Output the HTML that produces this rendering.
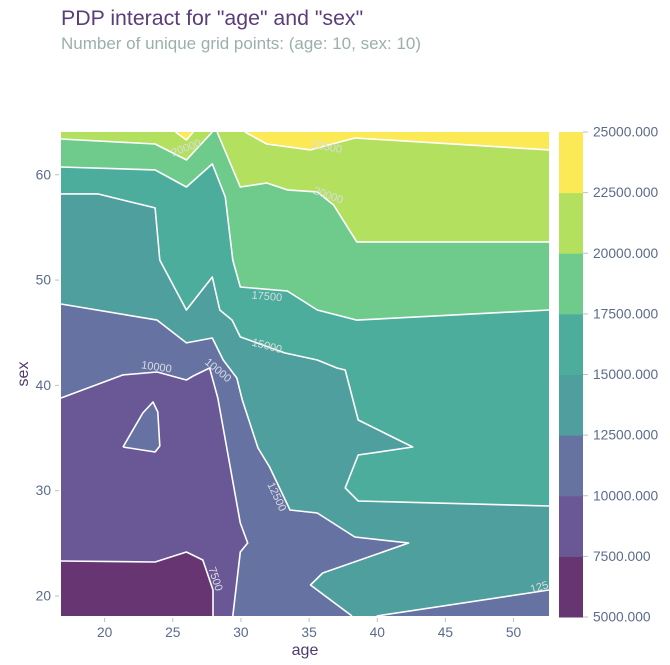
<!DOCTYPE html>
<html><head><meta charset="utf-8"><style>
html,body{margin:0;padding:0;background:#fff;}
svg{display:block;font-family:"Liberation Sans",sans-serif;}
</style></head><body>
<svg id="chart" width="670" height="665" viewBox="0 0 670 665">
<text x="61" y="25" font-size="21.3" fill="#5a3d7a">PDP interact for "age" and "sex"</text>
<text x="61" y="49" font-size="17" fill="#9ab0ac">Number of unique grid points: (age: 10, sex: 10)</text>
<g id="plot"></g>
<g id="cbar"></g>
<text x="305" y="655" font-size="16" fill="#4e3a6e" text-anchor="middle">age</text>
<text x="0" y="0" font-size="16" fill="#4e3a6e" text-anchor="middle" transform="translate(28,374) rotate(-90)">sex</text>
</svg>
<script>
// ---- data ----
const levels = [5000, 7500, 10000, 12500, 15000, 17500, 20000, 22500, 25000];
const bandColors = ['#663572','#6a5896','#6672a2','#4f9f9e','#4cad9c','#6fcb8b','#b4e05f','#fce956'];
const xTicks = [20, 25, 30, 35, 40, 45, 50];
const yTicks = [20, 30, 40, 50, 60];
const xDomain = [16.8, 52.6];
const yDomain = [18.1, 64.06];
// contour lines in data coords [age, sex]
const c7500 = [[16.8,23.32],[23.7,23.23],[26.0,24.18],[27.2,23.42],[27.95,20.57],[27.95,18.1]];
const c10000 = [[16.8,38.8],[21.35,40.99],[23.85,41.27],[26.0,40.51],[26.5,40.89],[27.7,41.65],[28.3,38.8],[29.95,26.93],[30.5,25.03],[29.95,24.18],[29.4,18.1]];
const c10000island = [[21.35,34.15],[22.8,37.38],[23.55,38.42],[23.9,37.47],[24.05,34.24],[23.7,33.67],[21.35,34.15]];
const c12500 = [[16.8,47.73],[23.85,46.2],[26.0,44.03],[27.9,44.5],[28.7,42.41],[29.7,40.7],[30.1,38.61],[31.25,34.05],[32.1,32.25],[33.6,28.17],[35.6,27.88],[38.35,25.6],[42.3,25.03],[36.0,22.18],[35.1,21.04],[38.15,18.1]];
const c12500b = [[39.95,18.1],[52.6,20.57]];
const c15000 = [[16.8,58.18],[19.5,58.18],[23.7,56.85],[24.05,51.9],[26.0,47.16],[27.9,50.29],[28.45,47.16],[29.35,46.2],[29.95,44.6],[33.2,43.08],[35.6,42.41],[37.05,41.65],[37.65,41.46],[38.6,36.71],[42.6,34.15],[38.6,33.39],[37.65,30.26],[38.6,29.02],[52.6,28.55]];
const c17500 = [[16.8,60.74],[23.7,60.46],[26.0,58.84],[27.9,61.03],[28.85,57.89],[29.4,51.9],[29.95,49.34],[33.4,48.96],[35.6,47.16],[38.5,46.2],[52.6,47.16]];
const c20000a = [[16.8,63.4],[23.7,62.92],[26.0,61.41],[27.9,64.06]];
const c20000b = [[28.25,64.06],[29.95,58.84],[31.9,59.22],[33.4,58.56],[35.6,58.37],[36.8,57.13],[38.5,53.62],[52.6,53.62]];
const c22500a = [[25.2,64.06],[26.0,63.3],[26.5,64.06]];
const c22500b = [[30.3,64.06],[31.9,62.92],[35.1,62.36],[38.35,63.49],[52.6,62.36]];
const labelText = ['20000','22500','20000','17500','15000','10000','10000','12500','7500','125'];
const labelPos = [[26.0,62.5],[36.3,62.6],[36.4,58.0],[31.9,48.4],[31.9,43.7],[23.8,41.7],[28.3,41.4],[32.6,29.4],[28.1,21.6],[51.9,20.8]];
const labelRot = [-20, 10, 20, 5, 15, 8, 40, 65, 72, -15];

// ---- scales ----
const PX0 = 61, PX1 = 549, PY0 = 616, PY1 = 132;
const xs = a => PX0 + (a - xDomain[0]) / (xDomain[1] - xDomain[0]) * (PX1 - PX0);
const ys = s => PY0 - (s - yDomain[0]) / (yDomain[1] - yDomain[0]) * (PY0 - PY1);
const NS = 'http://www.w3.org/2000/svg';
const plot = document.getElementById('plot');
const cbar = document.getElementById('cbar');
const BR = [xDomain[1], yDomain[0]], TR = [xDomain[1], yDomain[1]], TL = [xDomain[0], yDomain[1]];
const pts = arr => arr.map(p => xs(p[0]).toFixed(1) + ',' + ys(p[1]).toFixed(1)).join(' ');

function poly(arr, color, name) {
  const el = document.createElementNS(NS, 'polygon');
  el.setAttribute('points', pts(arr));
  el.setAttribute('fill', color);
  
  
  plot.appendChild(el);
}
poly([[xDomain[0], yDomain[0]], BR, TR, TL], bandColors[0], 'band-5000');
poly(c7500.concat([BR, TR, TL]), bandColors[1], 'band-7500');
poly(c10000.concat([BR, TR, TL]), bandColors[2], 'band-10000');
poly(c10000island, bandColors[2], 'band-10000-island');
poly(c12500.concat(c12500b, [TR, TL]), bandColors[3], 'band-12500');
poly(c15000.concat([TR, TL]), bandColors[4], 'band-15000');
poly(c17500.concat([TR, TL]), bandColors[5], 'band-17500');
poly(c20000a.concat([TL]), bandColors[6], 'band-20000-left');
poly(c20000b.concat([TR]), bandColors[6], 'band-20000-right');
poly(c22500a, bandColors[7], 'band-22500-left');
poly(c22500b.concat([TR]), bandColors[7], 'band-22500-right');

function line(arr, name) {
  const el = document.createElementNS(NS, 'polyline');
  el.setAttribute('points', pts(arr));
  el.setAttribute('fill', 'none');
  el.setAttribute('stroke', '#ffffff');
  el.setAttribute('stroke-width', '1.6');
  el.setAttribute('stroke-linejoin', 'round');
  
  
  plot.appendChild(el);
}
line(c7500, 'contour-7500');
line(c10000, 'contour-10000');
line(c10000island, 'contour-10000-island');
line(c12500, 'contour-12500');
line(c12500b, 'contour-12500-right');
line(c15000, 'contour-15000');
line(c17500, 'contour-17500');
line(c20000a, 'contour-20000-left');
line(c20000b, 'contour-20000-right');
line(c22500a, 'contour-22500-left');
line(c22500b, 'contour-22500-right');

labelText.forEach((t, i) => {
  const x = xs(labelPos[i][0]), y = ys(labelPos[i][1]);
  const el = document.createElementNS(NS, 'text');
  el.setAttribute('x', x); el.setAttribute('y', y);
  el.setAttribute('font-size', '11');
  el.setAttribute('fill', '#d8dde0');
  el.setAttribute('text-anchor', 'middle');
  el.setAttribute('dominant-baseline', 'central');
  el.setAttribute('transform', `rotate(${labelRot[i]} ${x} ${y})`);
  el.textContent = t;
  
  
  plot.appendChild(el);
});

xTicks.forEach(v => {
  const x = xs(v);
  const tk = document.createElementNS(NS, 'line');
  tk.setAttribute('x1', x); tk.setAttribute('x2', x); tk.setAttribute('y1', 618); tk.setAttribute('y2', 622);
  tk.setAttribute('stroke', '#b8c0c8');
  
  
  plot.appendChild(tk);
  const tx = document.createElementNS(NS, 'text');
  tx.setAttribute('x', x); tx.setAttribute('y', 637);
  tx.setAttribute('font-size', '13.8'); tx.setAttribute('fill', '#5b6b8c'); tx.setAttribute('text-anchor', 'middle');
  tx.textContent = v;
  
  
  plot.appendChild(tx);
});
yTicks.forEach(v => {
  const y = ys(v);
  const tk = document.createElementNS(NS, 'line');
  tk.setAttribute('x1', 55); tk.setAttribute('x2', 59); tk.setAttribute('y1', y); tk.setAttribute('y2', y);
  tk.setAttribute('stroke', '#b8c0c8');
  
  
  plot.appendChild(tk);
  const tx = document.createElementNS(NS, 'text');
  tx.setAttribute('x', 51); tx.setAttribute('y', y + 4.5);
  tx.setAttribute('font-size', '13.8'); tx.setAttribute('fill', '#5b6b8c'); tx.setAttribute('text-anchor', 'end');
  tx.textContent = v;
  
  
  plot.appendChild(tx);
});

const CB0 = 617, CB1 = 132, CBX = 559, CBW = 24;
const cs = v => CB0 - (v - levels[0]) / (levels[levels.length - 1] - levels[0]) * (CB0 - CB1);
for (let i = 0; i < levels.length - 1; i++) {
  const r = document.createElementNS(NS, 'rect');
  r.setAttribute('x', CBX); r.setAttribute('y', cs(levels[i + 1]));
  r.setAttribute('width', CBW); r.setAttribute('height', cs(levels[i]) - cs(levels[i + 1]) + 0.5);
  r.setAttribute('fill', bandColors[i]);
  
  
  cbar.appendChild(r);
}
levels.forEach(v => {
  const y = cs(v);
  const tk = document.createElementNS(NS, 'line');
  tk.setAttribute('x1', CBX + CBW); tk.setAttribute('x2', CBX + CBW + 5); tk.setAttribute('y1', y); tk.setAttribute('y2', y);
  tk.setAttribute('stroke', '#b8c0c8');
  
  
  cbar.appendChild(tk);
  const tx = document.createElementNS(NS, 'text');
  tx.setAttribute('x', 593); tx.setAttribute('y', y + 4.5);
  tx.setAttribute('font-size', '13.8'); tx.setAttribute('fill', '#5b6b8c');
  tx.textContent = v.toFixed(3);
  
  
  cbar.appendChild(tx);
});
</script>
</body></html>
